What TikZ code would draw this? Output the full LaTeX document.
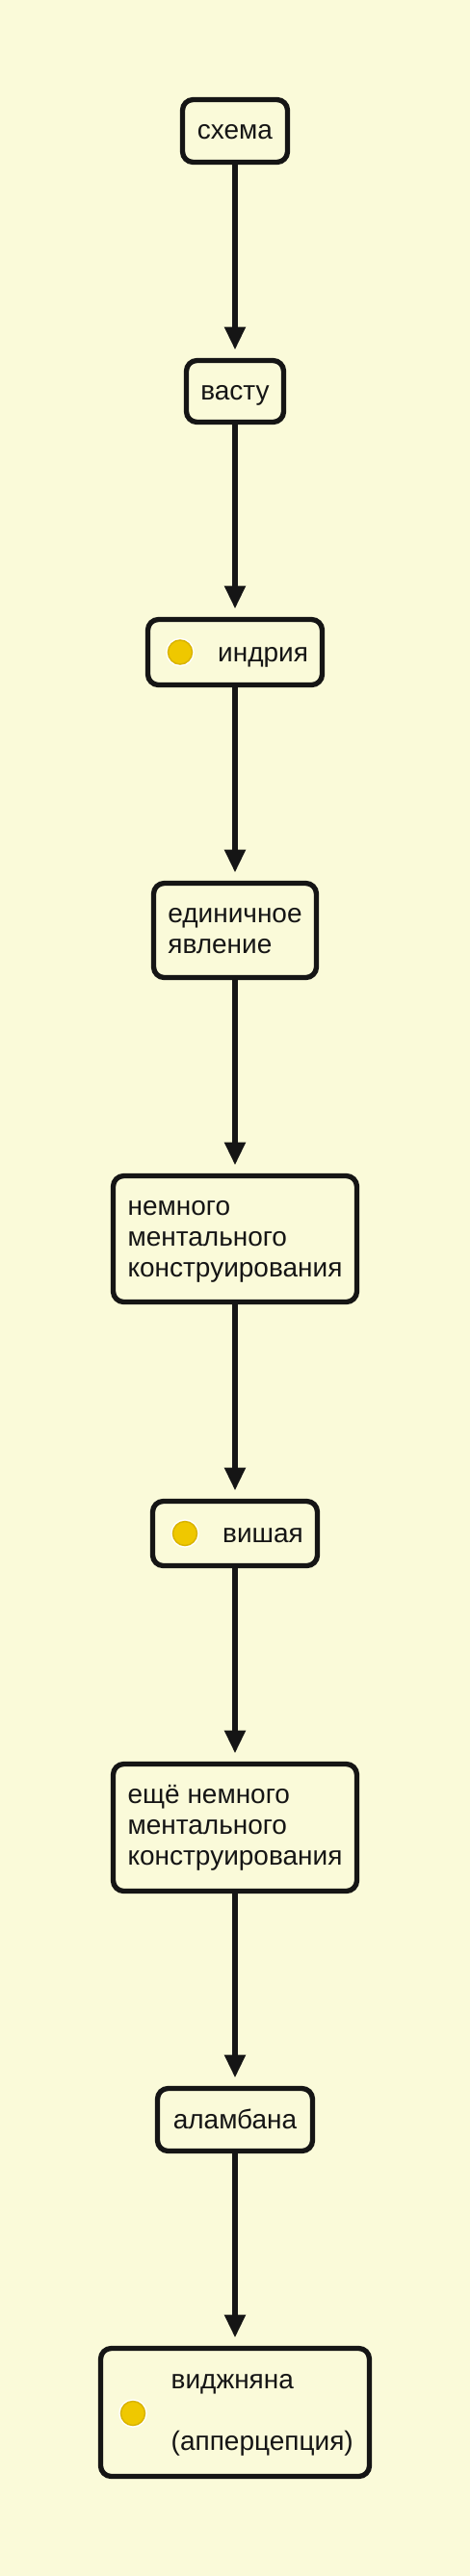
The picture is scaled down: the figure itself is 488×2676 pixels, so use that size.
\documentclass[tikz,border=0pt]{standalone}
\usepackage{fontspec}
\setmainfont{Liberation Sans}
\usetikzlibrary{arrows.meta}
\definecolor{bg}{HTML}{FAFAD9}
\definecolor{ink}{HTML}{151515}
\definecolor{gold}{HTML}{EFC800}
\definecolor{goldedge}{HTML}{D9B400}
\begin{document}
\begin{tikzpicture}[x=1pt,y=-1pt,
  box/.style={draw=ink, line width=5.3pt, rounded corners=11pt, fill=bg, inner sep=0pt,
    align=left, text=ink, font=\fontsize{28pt}{32pt}\selectfont, text depth=5.6pt},
  one/.style={box, text height=23.6pt},
  lbl/.style={text=ink, font=\fontsize{28pt}{32pt}\selectfont, inner sep=0pt, anchor=base west},
  dot/.style={circle, inner sep=0pt, minimum size=25pt, fill=gold, draw=goldedge, line width=1.5pt,
    preaction={draw=white, line width=4.5pt}},
  arr/.style={draw=ink, line width=5.3pt, -{Triangle[width=22.7pt,length=23.3pt,line width=0pt]}, shorten >=9pt}]
\fill[bg] (0,0) rectangle (488,2676);
\useasboundingbox (0,0) rectangle (488,2676);

\node[one, minimum width=109pt, minimum height=65pt] (skhema) at (244,136) {схема};
\node[one, minimum width=101pt, minimum height=64pt] (vastu) at (244,406.5) {васту};

\node[box, minimum width=181pt, minimum height=68pt] (indriya) at (244,677.5) {};
\node[dot] (indriyaDot) at (187,677.5) {};
\node[lbl] (indriyaText) at (226,687) {индрия};

\node[box, text height=52.6pt, minimum width=169pt, minimum height=98pt] (edinichnoe) at (244,966.5) {единичное\\явление};

\node[box, text height=83.6pt, minimum width=253pt, minimum height=131pt] (nemnogo) at (244,1287) {немного\\ментального\\конструирования};

\node[box, minimum width=171pt, minimum height=67pt] (vishaya) at (244,1593) {};
\node[dot] (vishayaDot) at (192,1593) {};
\node[lbl] (vishayaText) at (231,1602) {вишая};

\node[box, text height=82.6pt, minimum width=253pt, minimum height=132pt] (eshche) at (244,1898.5) {ещё немного\\ментального\\конструирования};

\node[one, minimum width=161pt, minimum height=65pt] (alambana) at (244,2202) {аламбана};

\node[box, minimum width=279pt, minimum height=133pt] (vijnana) at (244,2506) {};
\node[dot] (vijnanaDot) at (138,2507) {};
\node[lbl, align=left] (vijnanaText) at (177.5,2545) {виджняна\\ \\(апперцепция)};

\draw[arr] (skhema) -- (vastu);
\draw[arr] (vastu) -- (indriya);
\draw[arr] (indriya) -- (edinichnoe);
\draw[arr] (edinichnoe) -- (nemnogo);
\draw[arr] (nemnogo) -- (vishaya);
\draw[arr] (vishaya) -- (eshche);
\draw[arr] (eshche) -- (alambana);
\draw[arr] (alambana) -- (vijnana);
\end{tikzpicture}
\end{document}
